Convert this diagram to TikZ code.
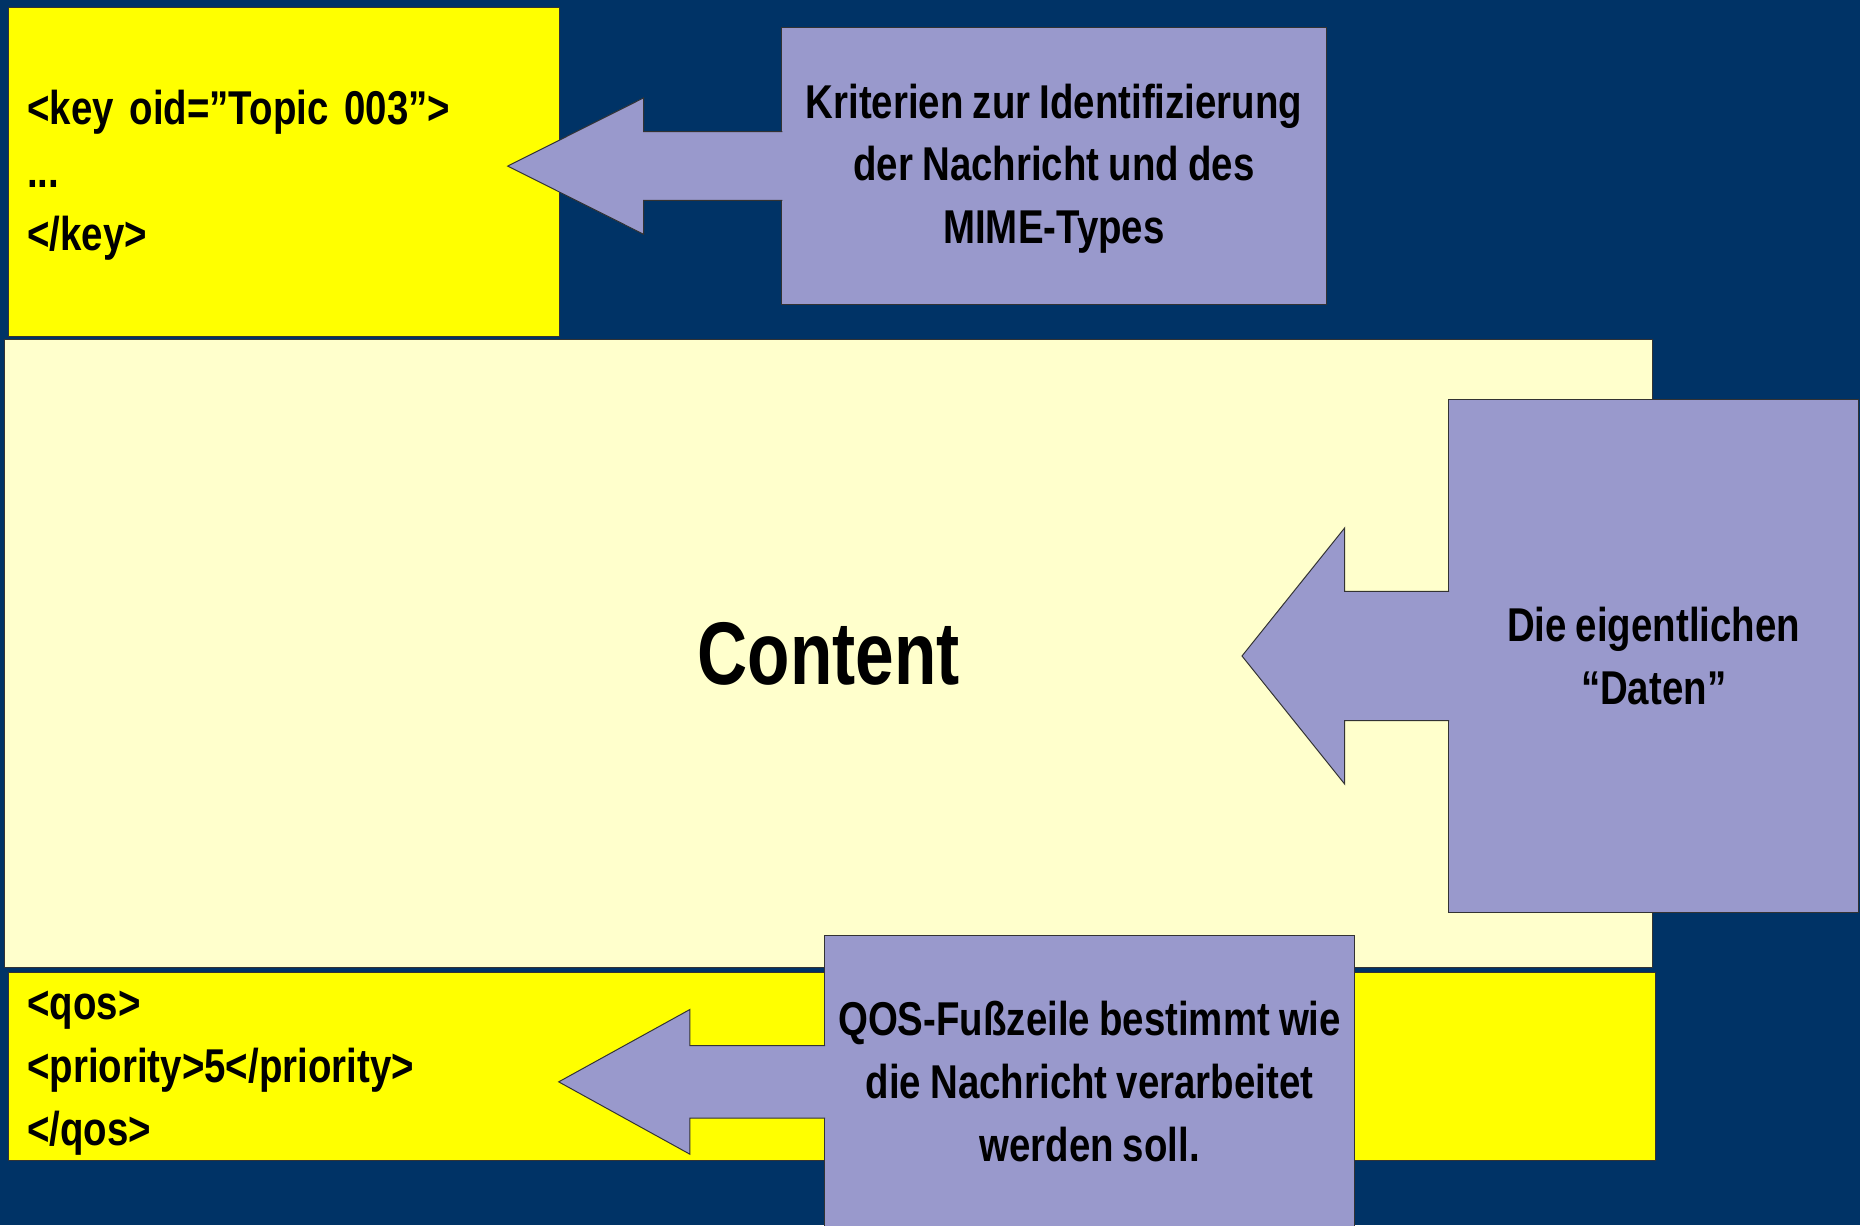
\documentclass[tikz,border=0pt]{standalone}
\usepackage{fontspec}
\setmainfont[FakeStretch=0.81, WordSpace=0.85]{Liberation Sans}
\newfontfamily\titlefont[FakeStretch=0.78]{Liberation Sans}
\usetikzlibrary{calc}

\definecolor{navy}{RGB}{0,51,102}
\definecolor{tagyellow}{RGB}{255,255,0}
\definecolor{paleyellow}{RGB}{255,255,204}
\definecolor{lavender}{RGB}{153,153,204}

\begin{document}
\begin{tikzpicture}[
      x=0.6pt, y=-0.6pt,
      every node/.style={font=\fontsize{24}{31.8}\selectfont\bfseries, inner sep=0pt},
      box/.style={rectangle, draw=black!80, line width=0.5pt},
      tagbox/.style={box, fill=tagyellow, align=left, inner xsep=9.6pt},
      contentbox/.style={box, fill=paleyellow},
      notebox/.style={box, fill=lavender, align=center},
      blockarrow/.style={fill=lavender, draw=black!80, line width=0.5pt, line join=miter}
    ]
      % Background
      \fill[navy] (0,0) rectangle (1568,1033);
      \useasboundingbox (0,0) rectangle (1568,1033);

      % Message parts
      \node[tagbox, minimum width=279pt, minimum height=166.8pt, text width=259.8pt] (key) at (239.5,145)
        {\rule{0pt}{21pt}<key oid=”Topic 003”>\\...\\</key>};
      \node[contentbox, minimum width=833.4pt, minimum height=318pt,
            font=\titlefont\fontsize{45}{54}\selectfont\bfseries] (content) at (698.5,551) {Content};
      \node[tagbox, minimum width=833.4pt, minimum height=94.8pt, text width=814.2pt] (qos) at (701.5,899)
        {\rule{0pt}{21pt}<qos>\\<priority>5</priority>\\</qos>};

      % Notes
      \node[notebox, minimum width=207.6pt, minimum height=259.2pt] (data) at (1394,553)
        {Die eigentlichen\\“Daten”};
      \node[notebox, minimum width=268.2pt, minimum height=147.6pt] (qosnote) at (918.5,912)
        {QOS-Fußzeile bestimmt wie\\die Nachricht verarbeitet\\werden soll.};
      \node[notebox, minimum width=275.4pt, minimum height=140.4pt] (crit) at (888.5,140)
        {\rule{0pt}{20pt}Kriterien zur Identifizierung\\der Nachricht und des\\MIME-Types};

      % Arrow tips
      \coordinate (keytip) at (428,140);
      \coordinate (contenttip) at (1047,553);
      \coordinate (qostip) at (471,912);

      % Block arrows
      \filldraw[blockarrow] ($(crit.west)+(1,-29)$) -- ++(-117,0) -- ++(0,-28.5) -- (keytip)
        -- ($(crit.west)+(-116,57.5)$) -- ++(0,-28.5) -- ($(crit.west)+(1,29)$);
      \filldraw[blockarrow] ($(data.west)+(1,-54.5)$) -- ++(-88,0) -- ++(0,-53.5) -- (contenttip)
        -- ($(data.west)+(-87,108)$) -- ++(0,-53.5) -- ($(data.west)+(1,54.5)$);
      \filldraw[blockarrow] ($(qosnote.west)+(1,-30.5)$) -- ++(-114,0) -- ++(0,-30.5) -- (qostip)
        -- ($(qosnote.west)+(-113,61)$) -- ++(0,-30.5) -- ($(qosnote.west)+(1,30.5)$);
    \end{tikzpicture}
\end{document}
